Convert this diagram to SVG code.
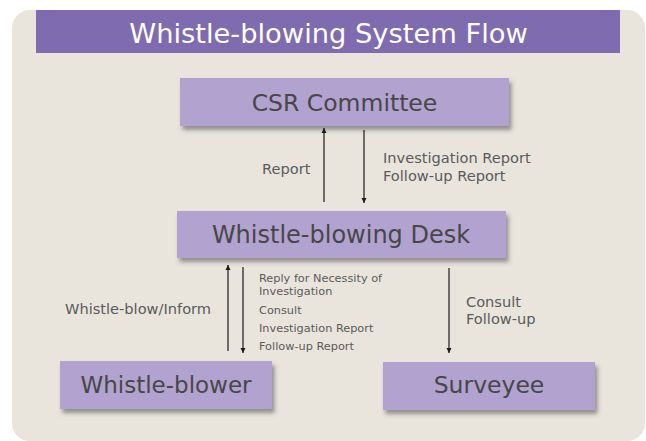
<svg xmlns="http://www.w3.org/2000/svg" width="646" height="441" viewBox="0 0 646 441">
  <defs>
    <filter id="shadow" x="-10%" y="-20%" width="125%" height="160%">
      <feDropShadow dx="2.5" dy="4" stdDeviation="2.2" flood-color="#4a4a4a" flood-opacity="0.55"/>
    </filter>
    <marker id="arrow" viewBox="0 0 10 10" refX="10" refY="5" markerWidth="5" markerHeight="6" markerUnits="userSpaceOnUse" orient="auto">
      <path d="M0,0 L10,5 L0,10 z" fill="#1a1a1a"/>
    </marker>
    <style>
      .node rect { fill: #b1a2cf; filter: url(#shadow); }
      .node text { font-family: "DejaVu Sans", "Noto Sans", sans-serif; fill: #474747; text-anchor: middle; }
      .title { font-family: "DejaVu Sans", "Noto Sans", sans-serif; fill: #ffffff; text-anchor: middle; font-size: 27.3px; }
      .conn line { stroke: #1a1a1a; stroke-width: 1.2; marker-end: url(#arrow); }
      .lbl { font-family: "DejaVu Sans", "Noto Sans", sans-serif; fill: #5a5a5a; font-size: 14.6px; }
      .sm { font-size: 11.3px; }
    </style>
  </defs>

  <!-- page background and panel -->
  <rect x="0" y="0" width="646" height="441" fill="#ffffff"/>
  <rect x="12" y="10" width="633" height="431" rx="18" fill="#e9e5dd"/>

  <!-- heading band -->
  <rect x="36" y="10" width="584" height="43" fill="#7f6bb0"/>
  <text class="title" x="328.5" y="43">Whistle-blowing System Flow</text>

  <g id="csr-committee" class="node">
    <rect x="180" y="78" width="329" height="48"/>
    <text x="344.5" y="111" font-size="23.5">CSR Committee</text>
  </g>

  <g id="whistle-blowing-desk" class="node">
    <rect x="177" y="211" width="329" height="47"/>
    <text x="341" y="243" font-size="24">Whistle-blowing Desk</text>
  </g>

  <g id="whistle-blower" class="node">
    <rect x="60" y="361" width="212" height="48"/>
    <text x="166" y="393" font-size="23">Whistle-blower</text>
  </g>

  <g id="surveyee" class="node">
    <rect x="383" y="362" width="212" height="48"/>
    <text x="489" y="393" font-size="23.5">Surveyee</text>
  </g>

  <g id="connectors" class="conn">
    <line x1="324" y1="202" x2="324" y2="128"/>
    <line x1="364" y1="130" x2="364" y2="203"/>
    <line x1="228" y1="351" x2="228" y2="265"/>
    <line x1="243" y1="267" x2="243" y2="353"/>
    <line x1="449" y1="268" x2="449" y2="353"/>
  </g>

  <g id="connector-labels">
    <text class="lbl" x="262" y="174">Report</text>
    <text class="lbl" x="383" y="163">Investigation Report</text>
    <text class="lbl" x="383" y="181">Follow-up Report</text>
    <text class="lbl" x="65" y="314">Whistle-blow/Inform</text>
    <text class="lbl sm" x="259" y="282">Reply for Necessity of</text>
    <text class="lbl sm" x="259" y="295">Investigation</text>
    <text class="lbl sm" x="259" y="314">Consult</text>
    <text class="lbl sm" x="259" y="332">Investigation Report</text>
    <text class="lbl sm" x="259" y="350">Follow-up Report</text>
    <text class="lbl" x="466" y="307">Consult</text>
    <text class="lbl" x="466" y="324">Follow-up</text>
  </g>
</svg>
